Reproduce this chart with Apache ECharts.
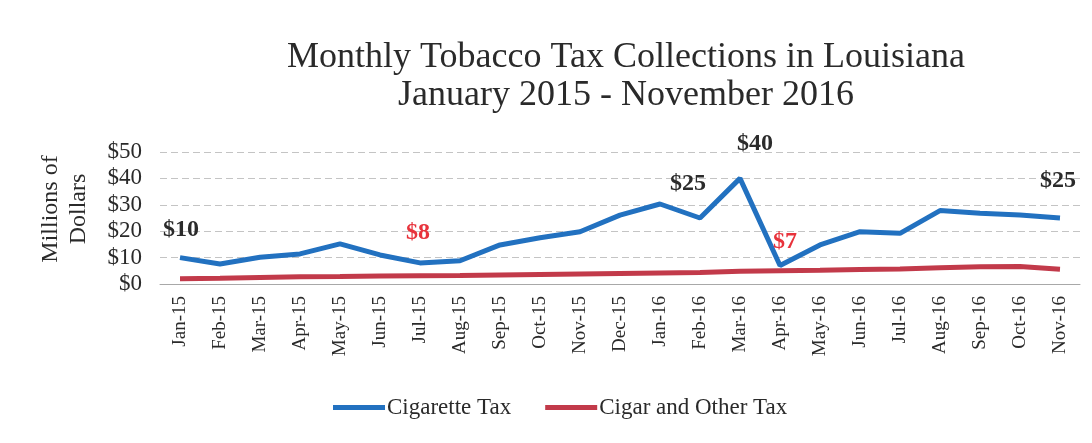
<!DOCTYPE html>
<html>
<head>
<meta charset="utf-8">
<script src="https://cdn.jsdelivr.net/npm/echarts@6/dist/echarts.min.js"></script>
<style>
  html, body { margin: 0; padding: 0; background: #ffffff; }
  #chart { width: 1092px; height: 443px; }
</style>
</head>
<body>
<div id="chart"></div>
<script>
// Month labels, Jan 2015 through Nov 2016
const months = ['Jan-15','Feb-15','Mar-15','Apr-15','May-15','Jun-15','Jul-15','Aug-15','Sep-15','Oct-15','Nov-15','Dec-15',
                'Jan-16','Feb-16','Mar-16','Apr-16','May-16','Jun-16','Jul-16','Aug-16','Sep-16','Oct-16','Nov-16'];

// Monthly collections, millions of dollars
const cigaretteTax = [10, 7.6, 10.1, 11.4, 15.2, 11, 8, 8.8, 14.8, 17.5, 19.8, 26.1,
                      30.3, 25, 40, 7, 14.8, 19.8, 19.2, 27.8, 26.8, 26.1, 25];
const cigarOtherTax = [2.0, 2.2, 2.5, 2.7, 2.8, 3.0, 3.1, 3.2, 3.4, 3.6, 3.8, 4.0,
                       4.2, 4.4, 4.8, 5.0, 5.2, 5.5, 5.7, 6.2, 6.5, 6.6, 5.6];

// Y axis ticks
const yTicks = [0, 10, 20, 30, 40, 50];

// Months whose cigarette value is called out, with the callout colour
const callouts = { 'Jan-15': '#2b2b2b', 'Jul-15': '#e8333c', 'Feb-16': '#2b2b2b',
                   'Mar-16': '#2b2b2b', 'Apr-16': '#e8333c', 'Nov-16': '#2b2b2b' };
const calloutOffsets = { 'Jan-15': [1, -16], 'Jul-15': [-2, -18], 'Feb-16': [-12, -22],
                         'Mar-16': [15, -23], 'Apr-16': [5, -12], 'Nov-16': [-2, -25] };

const serif = '"Liberation Serif", "DejaVu Serif", serif';

const cigaretteData = cigaretteTax.map((v, i) => {
  const m = months[i];
  if (!callouts[m]) return v;
  return {
    value: v,
    label: {
      show: true,
      position: 'top',
      distance: 0,
      offset: calloutOffsets[m],
      formatter: p => '$' + p.value,
      color: callouts[m],
      fontFamily: serif,
      fontWeight: 'bold',
      fontSize: 24
    }
  };
});

const chart = echarts.init(document.getElementById('chart'), null, { renderer: 'canvas' });

chart.setOption({
  animation: false,
  backgroundColor: '#ffffff',
  title: {
    text: 'Monthly Tobacco Tax Collections in Louisiana\nJanuary 2015 - November 2016',
    left: 621,
    top: 34,
    textAlign: 'center',
    textStyle: {
      fontFamily: serif,
      fontWeight: 'normal',
      fontSize: 36,
      lineHeight: 38,
      color: '#2a2a2a'
    }
  },
  legend: {
    left: 328,
    top: 391,
    icon: 'rect',
    itemWidth: 52,
    itemHeight: 5,
    itemGap: 34,
    textStyle: { fontFamily: serif, fontSize: 23, color: '#2a2a2a', padding: [0, 0, 0, -3] },
    data: ['Cigarette Tax', 'Cigar and Other Tax']
  },
  grid: {
    left: 160,
    right: 12,
    top: 152,
    bottom: 159,
    containLabel: false
  },
  xAxis: {
    type: 'category',
    data: months,
    boundaryGap: true,
    axisLine: { show: true, lineStyle: { color: '#a8a8a8', width: 1 } },
    axisTick: { show: false },
    axisLabel: {
      rotate: 90,
      interval: 0,
      margin: 12,
      fontFamily: serif,
      fontSize: 19,
      color: '#2a2a2a'
    },
    splitLine: { show: false }
  },
  yAxis: {
    type: 'value',
    min: yTicks[0],
    max: yTicks[yTicks.length - 1],
    interval: yTicks[1] - yTicks[0],
    name: 'Millions of\nDollars',
    nameLocation: 'middle',
    nameRotate: 90,
    nameGap: 67,
    nameTextStyle: { fontFamily: serif, fontSize: 24, lineHeight: 28, color: '#2a2a2a', padding: [0, 0, 0, 18] },
    axisLine: { show: false },
    axisTick: { show: false },
    axisLabel: {
      margin: 18,
      fontFamily: serif,
      fontSize: 23,
      color: '#2a2a2a',
      formatter: v => '$' + v
    },
    splitLine: { show: true, lineStyle: { color: '#c4c4c4', type: [7, 4], width: 1 } }
  },
  series: [
    {
      name: 'Cigarette Tax',
      type: 'line',
      data: cigaretteData,
      showSymbol: true,
      symbol: 'circle',
      symbolSize: 0,
      lineStyle: { color: '#2271c0', width: 5 },
      itemStyle: { color: '#2271c0' },
      emphasis: { disabled: true },
      z: 3
    },
    {
      name: 'Cigar and Other Tax',
      type: 'line',
      data: cigarOtherTax,
      showSymbol: false,
      lineStyle: { color: '#c23a4a', width: 5 },
      itemStyle: { color: '#c23a4a' },
      emphasis: { disabled: true },
      z: 2
    }
  ]
});
</script>
</body>
</html>
